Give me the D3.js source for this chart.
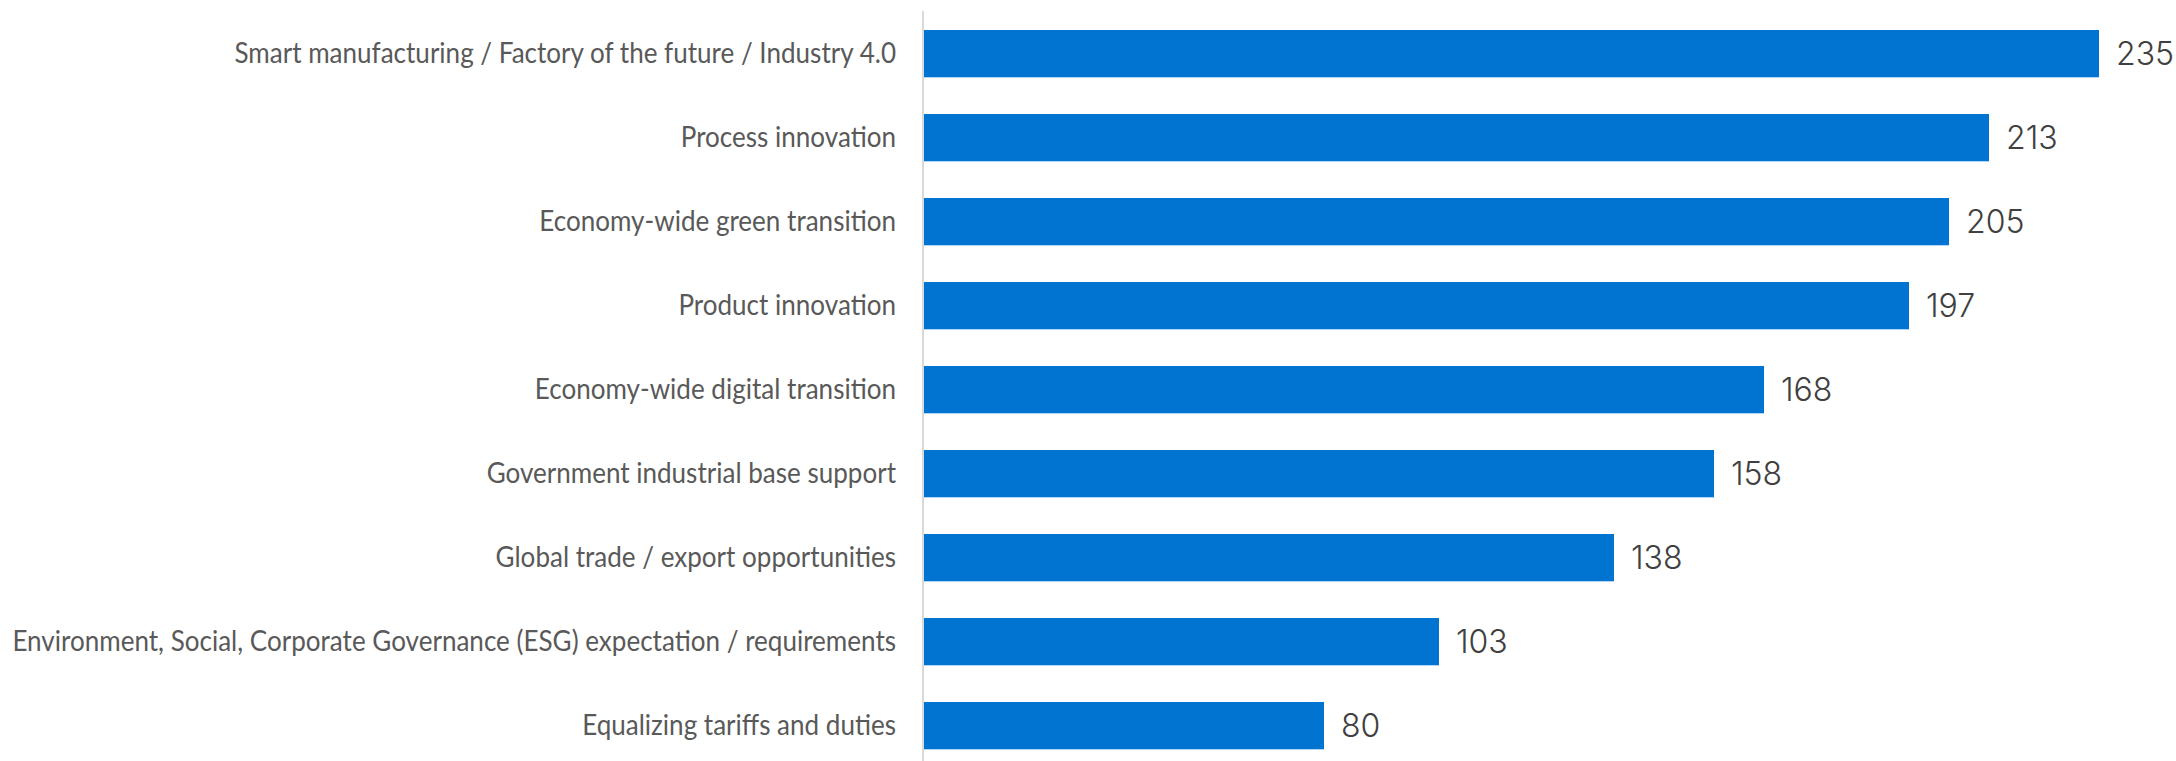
<!DOCTYPE html>
<html>
<head>
<meta charset="utf-8">
<script src="https://cdn.jsdelivr.net/npm/d3@7"></script>
<style>
  html, body { margin: 0; padding: 0; background: #ffffff; }
  svg { display: block; }
</style>
</head>
<body>
<svg id="chart" width="2176" height="761"></svg>
<script>
const categories = [
  "Smart manufacturing / Factory of the future / Industry 4.0",
  "Process innovation",
  "Economy-wide green transition",
  "Product innovation",
  "Economy-wide digital transition",
  "Government industrial base support",
  "Global trade / export opportunities",
  "Environment, Social, Corporate Governance (ESG) expectation / requirements",
  "Equalizing tariffs and duties"
];
const values = [235, 213, 205, 197, 168, 158, 138, 103, 80];

const svg = d3.select("#chart");
const x0 = 924;
const x = d3.scaleLinear().domain([0, 235]).range([x0, x0 + 1175]);
const y = d3.scaleBand()
  .domain(categories)
  .range([11.65, 11.65 + 9 * 84])
  .paddingInner(0.437)
  .paddingOuter(0.2185);

const data = categories.map((c, i) => ({ c, v: values[i] }));

// bars
svg.append("g").selectAll("rect").data(data).join("rect")
  .attr("x", x(0))
  .attr("y", d => y(d.c))
  .attr("width", d => x(d.v) - x(0))
  .attr("height", y.bandwidth())
  .attr("fill", "#0074D0");

// axis line + category labels
const axis = d3.axisLeft(y).tickSize(0).tickPadding(0);
const gAxis = svg.append("g").attr("transform", `translate(${x0 - 1},0)`).call(axis);
gAxis.select(".domain")
  .attr("d", `M0,11V761`)
  .attr("stroke", "#d9d9d9")
  .attr("stroke-width", 2);
const labels = gAxis.selectAll(".tick text")
  .attr("fill", "#595959")
  .attr("x", 0)
  .attr("dy", "0.35em")
  .style("font-family", "Lato, 'Open Sans', sans-serif")
  .style("font-weight", "400")
  .style("font-size", "28px");

// condense labels horizontally to mimic the narrow face of the original
let maxW = 0;
labels.each(function () { maxW = Math.max(maxW, this.getComputedTextLength()); });
const sx = 884 / maxW;
labels.attr("transform", `translate(-27,0) scale(${sx},1)`);

// value labels
svg.append("g").selectAll("text").data(data).join("text")
  .attr("x", d => x(d.v) + 17)
  .attr("y", d => y(d.c) + y.bandwidth() / 2)
  .attr("dy", "0.36em")
  .attr("fill", "#404040")
  .style("font-family", "Inter, sans-serif")
  .style("font-weight", "300")
  .style("font-size", "32px")
  .text(d => d.v);
</script>
</body>
</html>
